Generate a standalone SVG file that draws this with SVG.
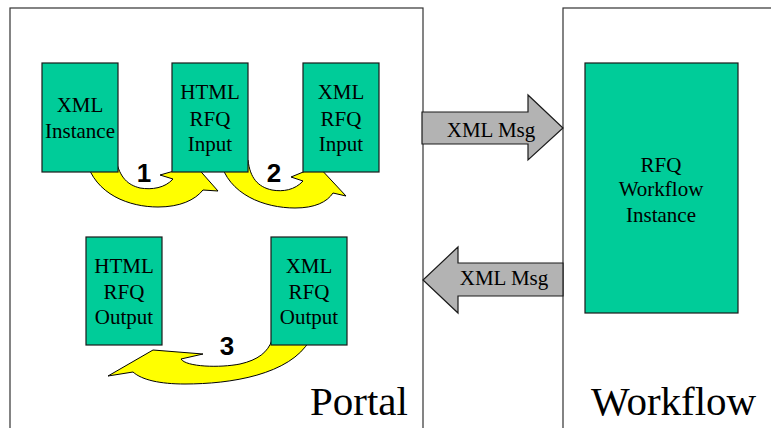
<svg xmlns="http://www.w3.org/2000/svg" width="771" height="428" viewBox="0 0 771 428">
  <style>
    .panel { fill: #ffffff; stroke: #333333; stroke-width: 1.2; }
    .box { fill: #00cc99; stroke: #1a1a1a; stroke-width: 1.2; }
    .lbl { font-family: "Liberation Serif", "Times New Roman", serif; font-size: 21px; fill: #000000; text-anchor: middle; }
    .big { font-family: "Liberation Serif", "Times New Roman", serif; font-size: 41px; fill: #000000; }
    .step { fill: #ffff00; stroke: #000000; stroke-width: 1; stroke-linejoin: miter; }
    .msg { fill: #b3b3b3; stroke: #1a1a1a; stroke-width: 1.2; }
    .num { font-family: "Liberation Sans", Arial, sans-serif; font-weight: bold; font-size: 26px; fill: #000000; text-anchor: middle; }
  </style>

  <!-- outer areas -->
  <g id="portal">
    <rect class="panel" x="10" y="8" width="413" height="430"/>
    <text class="big" x="310" y="415">Portal</text>
  </g>
  <g id="workflow">
    <rect class="panel" x="563" y="8" width="220" height="430"/>
    <text class="big" x="591" y="415">Workflow</text>
  </g>

  <!-- connectors: curved step arrows (under the boxes) and message arrows -->
  <g id="connectors">
    <path class="step" d="M 86,160 C 95,195 130,207 158,207 C 180,207 195,200 203,190 L 218,191 L 195,165 L 160,175 L 173,179 C 165,188 152,190 140,188 C 128,185 120,178 116,160 Z"/>
    <path class="step" d="M 220,160 C 228,195 265,208 295,208 C 315,208 327,202 333,193 L 346,196 L 318,166 L 291,177 L 303,181 C 295,190 283,192 272,190 C 258,187 250,178 248,160 Z"/>
    <path class="step" d="M 310,340 C 290,375 230,384 185,384 C 160,384 142,380 133,372 L 108,376 L 153,350 L 203,354 L 181,359 C 186,367 220,368 240,364 C 258,360 268,352 272,340 Z"/>

    <polygon class="msg" points="422,112 528,112 528,95 563,128 528,160 528,144 422,144"/>
    <text class="lbl" x="491" y="137">XML Msg</text>
    <polygon class="msg" points="563,263 458,263 458,247 423,280 458,313 458,296 563,296"/>
    <text class="lbl" x="504" y="285">XML Msg</text>
  </g>

  <!-- document boxes -->
  <g id="xml-instance">
    <rect class="box" x="42" y="63" width="76" height="109"/>
    <text class="lbl" x="80" y="112">XML</text>
    <text class="lbl" x="80" y="138">Instance</text>
  </g>
  <g id="html-rfq-input">
    <rect class="box" x="172" y="63" width="76" height="109"/>
    <text class="lbl" x="210" y="99">HTML</text>
    <text class="lbl" x="210" y="126">RFQ</text>
    <text class="lbl" x="210" y="151">Input</text>
  </g>
  <g id="xml-rfq-input">
    <rect class="box" x="303" y="63" width="76" height="109"/>
    <text class="lbl" x="341" y="99">XML</text>
    <text class="lbl" x="341" y="126">RFQ</text>
    <text class="lbl" x="341" y="151">Input</text>
  </g>
  <g id="html-rfq-output">
    <rect class="box" x="86" y="237" width="76" height="108"/>
    <text class="lbl" x="124" y="273">HTML</text>
    <text class="lbl" x="124" y="299">RFQ</text>
    <text class="lbl" x="124" y="324">Output</text>
  </g>
  <g id="xml-rfq-output">
    <rect class="box" x="271" y="237" width="76" height="108"/>
    <text class="lbl" x="309" y="273">XML</text>
    <text class="lbl" x="309" y="299">RFQ</text>
    <text class="lbl" x="309" y="324">Output</text>
  </g>
  <g id="rfq-workflow-instance">
    <rect class="box" x="585" y="63" width="153" height="250"/>
    <text class="lbl" x="661" y="172">RFQ</text>
    <text class="lbl" x="661" y="196">Workflow</text>
    <text class="lbl" x="661" y="222">Instance</text>
  </g>

  <!-- step numbers -->
  <g id="step-numbers">
    <text class="num" x="144" y="182">1</text>
    <text class="num" x="274" y="182">2</text>
    <text class="num" x="227" y="355">3</text>
  </g>
</svg>
